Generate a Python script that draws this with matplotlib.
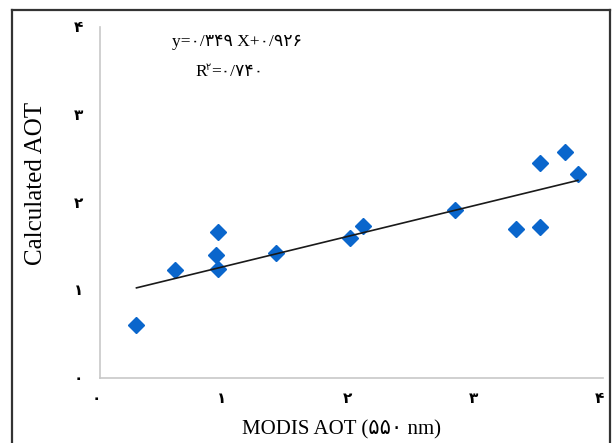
import matplotlib
matplotlib.use("Agg")
import matplotlib.pyplot as plt
import matplotlib.transforms as mtransforms
from matplotlib.lines import Line2D
import numpy as np

# data
modis_aot = [0.29, 0.60, 0.94, 0.92, 0.94, 1.40, 1.99, 2.09, 2.82, 3.31, 3.50, 3.50, 3.70, 3.80]
calc_aot = [0.60, 1.23, 1.66, 1.40, 1.24, 1.43, 1.59, 1.73, 1.92, 1.70, 1.72, 2.45, 2.58, 2.33]
slope = 0.349
intercept = 0.926
tick_values = [0, 1, 2, 3, 4]
tick_labels = ["۰", "۱", "۲", "۳", "۴"]
eq_text = "y=۰/۳۴۹ X+۰/۹۲۶"
r2_text = "=۰/۷۴۰"
xlabel = "MODIS AOT (۵۵۰ nm)"
ylabel = "Calculated AOT"

FAM = ["Liberation Serif", "DejaVu Sans"]

fig = plt.figure(figsize=(6.13, 4.43), dpi=100)
ax = fig.add_axes([100/613, 1-378/443, 503/613, 351/443])

ax.plot(modis_aot, calc_aot, linestyle="none", marker="D", markersize=8.5,
        color="#0a66cc", zorder=2)
xs = np.array([min(modis_aot), max(modis_aot)])
ax.plot(xs, slope*xs + intercept, color="#1a1a1a", lw=1.2, zorder=3)

ax.set_xlim(0, 4)
ax.set_ylim(0, 4)
ax.set_xticks(tick_values)
ax.set_yticks(tick_values)
ax.set_xticklabels(tick_labels, family=FAM, fontsize=11, fontweight="bold")
ax.set_yticklabels(tick_labels, family=FAM, fontsize=11, fontweight="bold")
ax.tick_params(axis="both", length=0)
ax.tick_params(axis="x", pad=11)
ax.tick_params(axis="y", pad=12)
shift = mtransforms.ScaledTranslation(-4/100, 0, fig.dpi_scale_trans)
for lab in ax.get_xticklabels():
    lab.set_transform(lab.get_transform() + shift)
for s in ["top", "right"]:
    ax.spines[s].set_visible(False)
for s in ["left", "bottom"]:
    ax.spines[s].set_color("#c8c8c8")
    ax.spines[s].set_linewidth(1.2)

ax.set_xlabel(xlabel, family=FAM, fontsize=15)
ax.set_ylabel(ylabel, family=FAM, fontsize=18)
ax.xaxis.set_label_coords((341-100)/503, -(430-378)/351)
ax.yaxis.set_label_coords((36-100)/503, (378-183)/351)
ax.xaxis.label.set_va("center")
ax.yaxis.label.set_va("center")

ax.text((172-100)/503, (378-42)/351, eq_text, transform=ax.transAxes,
        family=FAM, fontsize=12.5, ha="left", va="center")
ax.text((195-100)/503, (378-72)/351, "R", transform=ax.transAxes,
        family=FAM, fontsize=12.5, ha="left", va="center")
ax.text((206-100)/503, (378-67)/351, "۲", transform=ax.transAxes,
        family=FAM, fontsize=7, ha="left", va="center")
ax.text((211-100)/503, (378-72)/351, r2_text, transform=ax.transAxes,
        family=FAM, fontsize=12.5, ha="left", va="center")

# figure border (open at bottom)
bc = "#333333"
x0, x1, yt = 12/613, 610/613, 1-10/443
fig.add_artist(Line2D([x0, x0], [0, yt], transform=fig.transFigure, color=bc, lw=1.6))
fig.add_artist(Line2D([x1, x1], [0, yt], transform=fig.transFigure, color=bc, lw=1.6))
fig.add_artist(Line2D([x0, x1], [yt, yt], transform=fig.transFigure, color=bc, lw=1.6))

fig.savefig("out.png", dpi=100)
